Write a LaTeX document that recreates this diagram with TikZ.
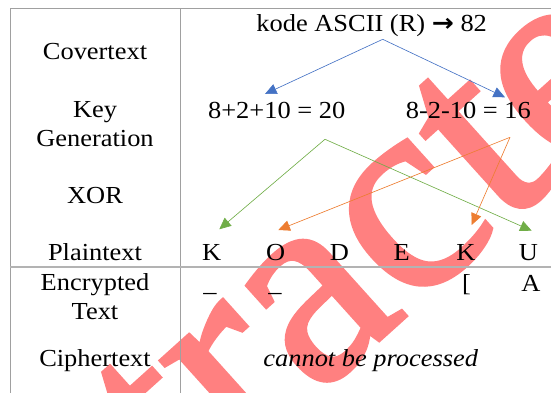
\documentclass[tikz,border=0pt]{standalone}
\usepackage{fontspec}
\setmainfont{Liberation Serif}
\newfontfamily\arrowfont{DejaVu Sans}
\newfontfamily\stampface[FakeBold=1.5]{Liberation Serif}
\usepackage{xcolor}
\usetikzlibrary{arrows.meta}

\definecolor{keyblue}{HTML}{4472C4}
\definecolor{keygreen}{HTML}{70AD47}
\definecolor{keyorange}{HTML}{ED7D31}
\definecolor{rulegray}{HTML}{A0A0A0}
\definecolor{stamp}{HTML}{FF8080}

\begin{document}
\begin{tikzpicture}[
    txt/.style={font=\fontsize{23.2}{27.2}\selectfont, inner sep=0pt, xscale=1.08},
    lbl/.style={txt, align=center},
    rule/.style={draw=rulegray, line width=0.9pt},
    arr/.style={-{Triangle[length=11pt, width=10pt]}, line width=0.6pt},
    stampfont/.style={rotate=42, inner sep=0pt, text=stamp,
                      font=\stampface\fontsize{270}{270}\selectfont}
]
\useasboundingbox (0,0) rectangle (18.367,13.1);
\clip (0,0) rectangle (18.367,13.1);

% watermark lies under the table, built round its "c"
\node (stampC) [stampfont] at (13.733,5.7) {c};
\node (stampA) [stampfont, anchor=base east] at (stampC.base west) {a};
\node (stampB) [stampfont, anchor=base east] at (stampA.base west) {Extr};
\node (stampD) [stampfont, anchor=base west] at (stampC.base east) {ted};

% table rules
\draw[rule] (0.333,0) -- (0.333,12.833) -- (18.367,12.833);
\draw[rule] (6,0) -- (6,12.833);
\draw[rule, line width=1.8pt, draw=rulegray!80] (0.333,4.2) -- (18.367,4.2);

% row labels
\node[txt, anchor=base] (covertext) at (3.167,11.1) {Covertext};
\node[lbl] (keygen) at (3.167,8.953) {Key\\Generation};
\node[txt, anchor=base] (xor) at (3.167,6.333) {XOR};
\node[txt, anchor=base] (plain) at (3.167,4.433) {Plaintext};
\node[lbl] (encrypted) at (3.167,3.21) {Encrypted\\Text};
\node[txt, anchor=base] (cipher) at (3.167,0.867) {Ciphertext};

% key generation
\node[txt, anchor=base] (kode) at (12.39,12.043) {kode ASCII (R) {\arrowfont\bfseries →} 82};
\node[txt, anchor=base] (keyA) at (9.223,9.157) {8+2+10 = 20};
\node[txt, anchor=base] (keyB) at (15.61,9.157) {8-2-10 = 16};

% plaintext and encrypted characters
\foreach \ch/\x [count=\i] in {K/7.057, O/9.19, D/11.31, E/13.39, K/15.533, U/17.61}
    \node[txt, anchor=base] (p\i) at (\x,4.433) {\ch};
\node[txt, anchor=base] (e1) at (7.0,3.377) {\_};
\node[txt, anchor=base] (e2) at (9.167,3.377) {\_};
\node[txt, anchor=base] (e5) at (15.553,3.377) {[};
\node[txt, anchor=base] (e6) at (17.7,3.377) {A};

\node[txt, anchor=base] (failed) at (12.36,0.877) {\textit{cannot be processed}};

% arrow end points
\coordinate (blueTop) at (12.757,11.79);
\coordinate (blueL) at (8.833,9.967);
\coordinate (blueR) at (16.833,9.857);
\coordinate (greenTop) at (10.833,8.457);
\coordinate (greenL) at (7.31,5.457);
\coordinate (greenR) at (17.723,5.41);
\coordinate (orangeTop) at (17.0,8.523);
\coordinate (orangeL) at (9.277,5.433);
\coordinate (orangeD) at (15.723,5.6);

\draw[arr, keyblue]   (blueTop) -- (blueL);
\draw[arr, keyblue]   (blueTop) -- (blueR);
\draw[arr, keygreen]  (greenTop) -- (greenL);
\draw[arr, keygreen]  (greenTop) -- (greenR);
\draw[arr, keyorange] (orangeTop) -- (orangeL);
\draw[arr, keyorange] (orangeTop) -- (orangeD);
\end{tikzpicture}
\end{document}
